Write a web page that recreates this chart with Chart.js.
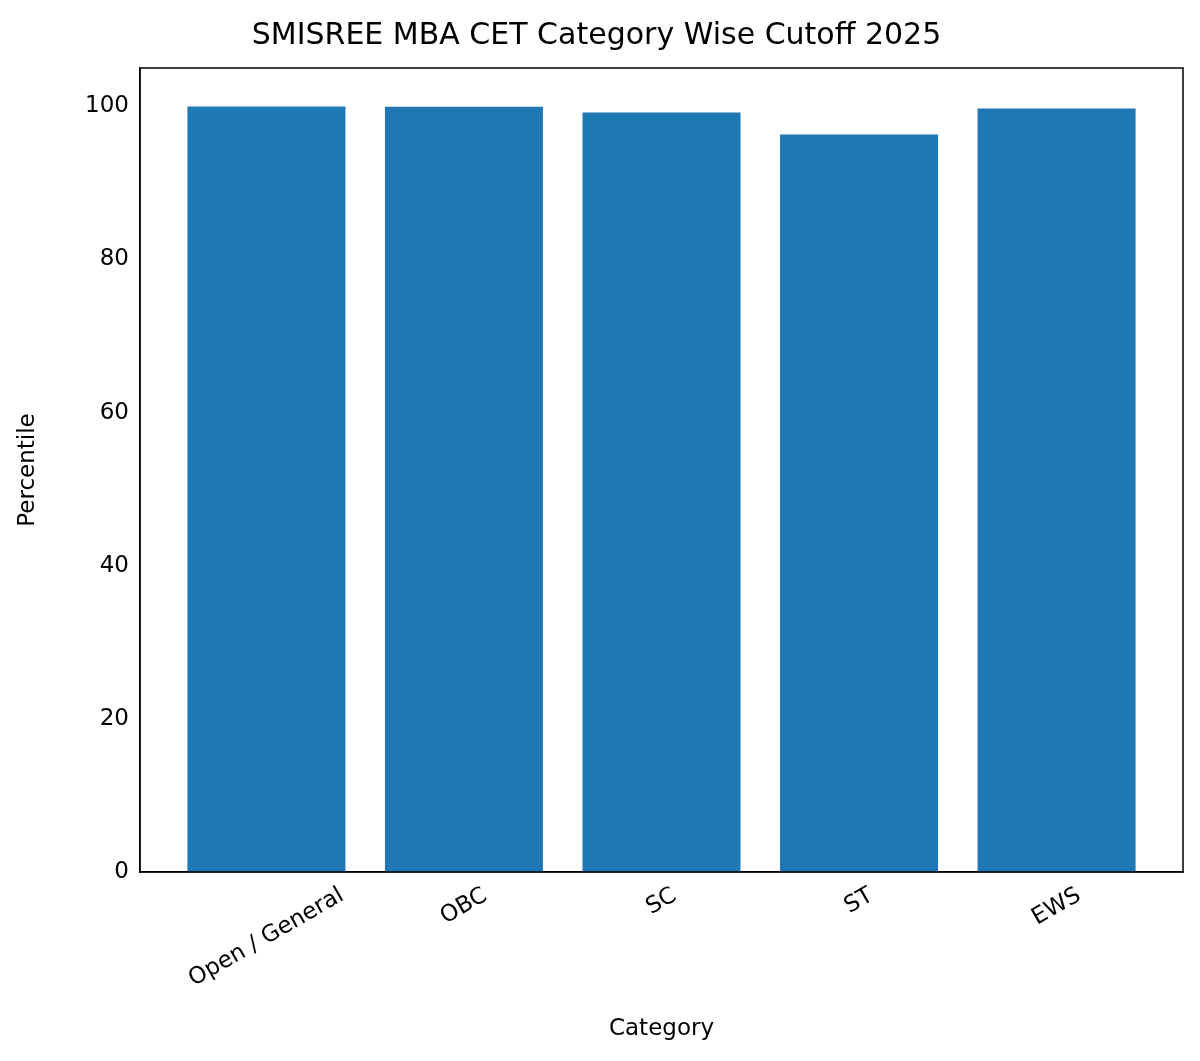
<!DOCTYPE html>
<html>
<head>
<script src="https://cdn.jsdelivr.net/npm/chart.js@4"></script>
<style>
body { margin: 0; background: #fff; }
#wrap { width: 1200px; height: 1061px; }
</style>
</head>
<body>
<div id="wrap"><canvas id="c"></canvas></div>
<script>
const categories = ['Open / General', 'OBC', 'SC', 'ST', 'EWS'];
const percentiles = [99.97, 99.95, 99.2, 96.3, 99.7];
const yTicks = [0, 20, 40, 60, 80, 100];

const font = 'DejaVu Sans';
const tickSize = 23;

new Chart(document.getElementById('c'), {
    type: 'bar',
    data: {
        datasets: [{
            data: percentiles.map((v, i) => ({ x: i, y: v })),
            backgroundColor: '#1f77b4',
            borderWidth: 0,
            barPercentage: 0.8,
            categoryPercentage: 1,
        }],
    },
    options: {
        responsive: true,
        maintainAspectRatio: false,
        animation: false,
        layout: { padding: { top: 10, right: 17, bottom: 14, left: 10 } },
        plugins: {
            legend: { display: false },
            tooltip: { enabled: false },
            title: {
                display: true,
                text: 'SMISREE MBA CET Category Wise Cutoff 2025',
                color: '#000',
                font: { family: font, size: 30, weight: 'normal' },
                padding: { top: 8, bottom: 14 },
            },
        },
        scales: {
            x: {
                type: 'linear',
                offset: false,
                min: -0.64,
                max: 4.64,
                afterBuildTicks: axis => { axis.ticks = categories.map((c, i) => ({ value: i })); },
                afterFit: axis => { axis.height = 175; },
                grid: { display: false, drawTicks: true, tickLength: 8, tickColor: '#000' },
                border: { color: '#000', width: 1.5 },
                ticks: {
                    color: 'rgba(0,0,0,0)',
                    font: { family: font, size: tickSize },
                    maxRotation: 30,
                    minRotation: 30,
                    autoSkip: false,
                    callback: v => categories[v],
                },
                title: {
                    display: true,
                    text: 'Category',
                    color: '#000',
                    font: { family: font, size: tickSize },
                },
            },
            y: {
                min: 0,
                max: 105,
                afterBuildTicks: axis => { axis.ticks = yTicks.map(v => ({ value: v })); },
                afterFit: axis => { axis.width = 130; },
                grid: { display: false, drawTicks: true, tickLength: 8, tickColor: '#000' },
                border: { color: '#000', width: 1.5 },
                ticks: { color: '#000', font: { family: font, size: tickSize } },
                title: {
                    display: true,
                    text: 'Percentile',
                    color: '#000',
                    font: { family: font, size: tickSize },
                },
            },
        },
    },
    plugins: [{
        id: 'frameAndLabels',
        afterDraw(chart) {
            const { ctx, chartArea: a, scales } = chart;
            ctx.save();
            ctx.strokeStyle = '#000';
            ctx.lineWidth = 1.5;
            ctx.strokeRect(a.left, a.top, a.right - a.left, a.bottom - a.top);

            // centred rotated category labels, like matplotlib rotation=30
            ctx.font = `${tickSize}px "${font}"`;
            ctx.fillStyle = '#000';
            ctx.textAlign = 'center';
            ctx.textBaseline = 'middle';
            const ang = Math.PI / 6;
            categories.forEach((c, i) => {
                const w = ctx.measureText(c).width;
                const h = tickSize;
                const x = scales.x.getPixelForValue(i);
                const y = a.bottom + 12 + (w * Math.sin(ang) + h * Math.cos(ang)) / 2;
                ctx.save();
                ctx.translate(x, y);
                ctx.rotate(-ang);
                ctx.fillText(c, 0, 0);
                ctx.restore();
            });
            ctx.restore();
        },
    }],
});
</script>
</body>
</html>
